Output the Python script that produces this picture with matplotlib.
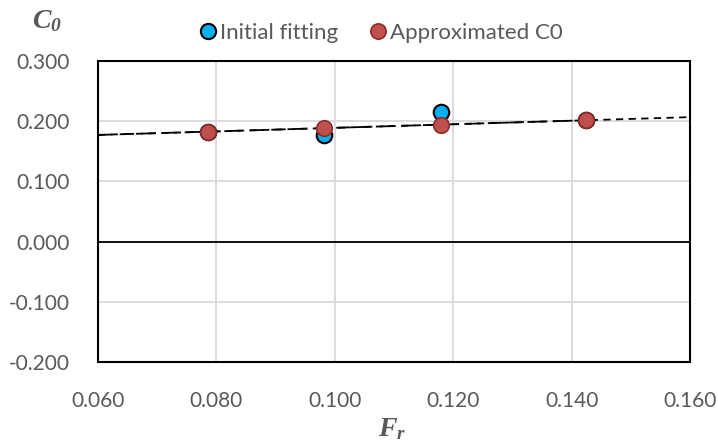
import numpy as np
import matplotlib
matplotlib.use("Agg")
import matplotlib.pyplot as plt
from matplotlib.lines import Line2D

plt.rcParams['mathtext.fontset'] = 'custom'
plt.rcParams['mathtext.bfit'] = 'Liberation Serif:bold:italic'
plt.rcParams['mathtext.it'] = 'Liberation Serif:italic'
plt.rcParams['mathtext.bf'] = 'Liberation Serif:bold'
plt.rcParams['mathtext.rm'] = 'Liberation Serif'

# Froude number and C0 values
fr = [0.0786, 0.0982, 0.1179, 0.1424]
c0_initial = [0.1826, 0.1770, 0.2153, 0.2020]
c0_approx = [0.1826, 0.1892, 0.1932, 0.2020]

x_ticks = [0.06, 0.08, 0.10, 0.12, 0.14, 0.16]
y_ticks = [-0.2, -0.1, 0.0, 0.1, 0.2, 0.3]

tick_color = '#595959'
blue = '#00B0F0'
red = '#C0504D'

fig = plt.figure(figsize=(7.18, 4.42), dpi=100)
ax = fig.add_axes([98 / 718, 1 - 362 / 442, 592 / 718, 301 / 442])

ax.set_xlim(0.06, 0.16)
ax.set_ylim(-0.2, 0.3)
ax.set_xticks(x_ticks)
ax.set_yticks(y_ticks)
ax.set_xticklabels([f"{v:.3f}" for v in x_ticks])
ax.set_yticklabels([f"{v:.3f}" for v in y_ticks])
ax.tick_params(length=0, labelsize=15, labelcolor=tick_color)
for lab in ax.get_xticklabels() + ax.get_yticklabels():
    lab.set_fontfamily('Lato')
ax.tick_params(axis='x', pad=21)
ax.tick_params(axis='y', pad=20)

ax.grid(True, color='#D9D9D9', linewidth=1.3)
ax.set_axisbelow(True)
for s in ax.spines.values():
    s.set_color('black')
    s.set_linewidth(1.5)

ax.axhline(0, color='black', linewidth=1.3, zorder=2)

# linear trend of approximated C0
slope, intercept = np.polyfit(fr, c0_approx, 1)
xs_full = np.array([0.06, 0.16])
ax.plot(xs_full, slope * xs_full + intercept, color='black', linewidth=1.3,
        linestyle=(0, (4, 3)), zorder=3)
xs_part = np.array([0.06, max(fr)])
ax.plot(xs_part, slope * xs_part + intercept, color='black', linewidth=1.3,
        linestyle=(0, (8, 4)), zorder=3)

ax.scatter(fr, c0_initial, s=125, color=blue, edgecolor='black', linewidth=1.5, zorder=4)
ax.scatter(fr, c0_approx, s=125, color=red, edgecolor='#8C2D2A', linewidth=1.2, zorder=5)

handles = [
    Line2D([], [], marker='o', linestyle='none', markersize=11, markerfacecolor=blue,
           markeredgecolor='black', markeredgewidth=1.5, label='Initial fitting'),
    Line2D([], [], marker='o', linestyle='none', markersize=11, markerfacecolor=red,
           markeredgecolor='#8C2D2A', markeredgewidth=1.2, label='Approximated C0'),
]
leg = fig.legend(handles=handles, loc='center', bbox_to_anchor=(381 / 718, 1 - 33 / 442),
                 ncol=2, frameon=False, handlelength=0.8, handletextpad=0.15,
                 columnspacing=1.4, prop={'family': 'Lato', 'size': 16})
for t in leg.get_texts():
    t.set_color(tick_color)

fig.text(47 / 718, 1 - 20 / 442, r'$\mathbfit{C}_{\mathbfit{0}}$', fontsize=20,
         ha='center', va='center', color='#595959')
fig.text(392 / 718, 1 - 428 / 442, r'$\mathbfit{F}_{\mathbfit{r}}$', fontsize=20,
         ha='center', va='center', color='#595959')

fig.savefig('out.png', dpi=100)
